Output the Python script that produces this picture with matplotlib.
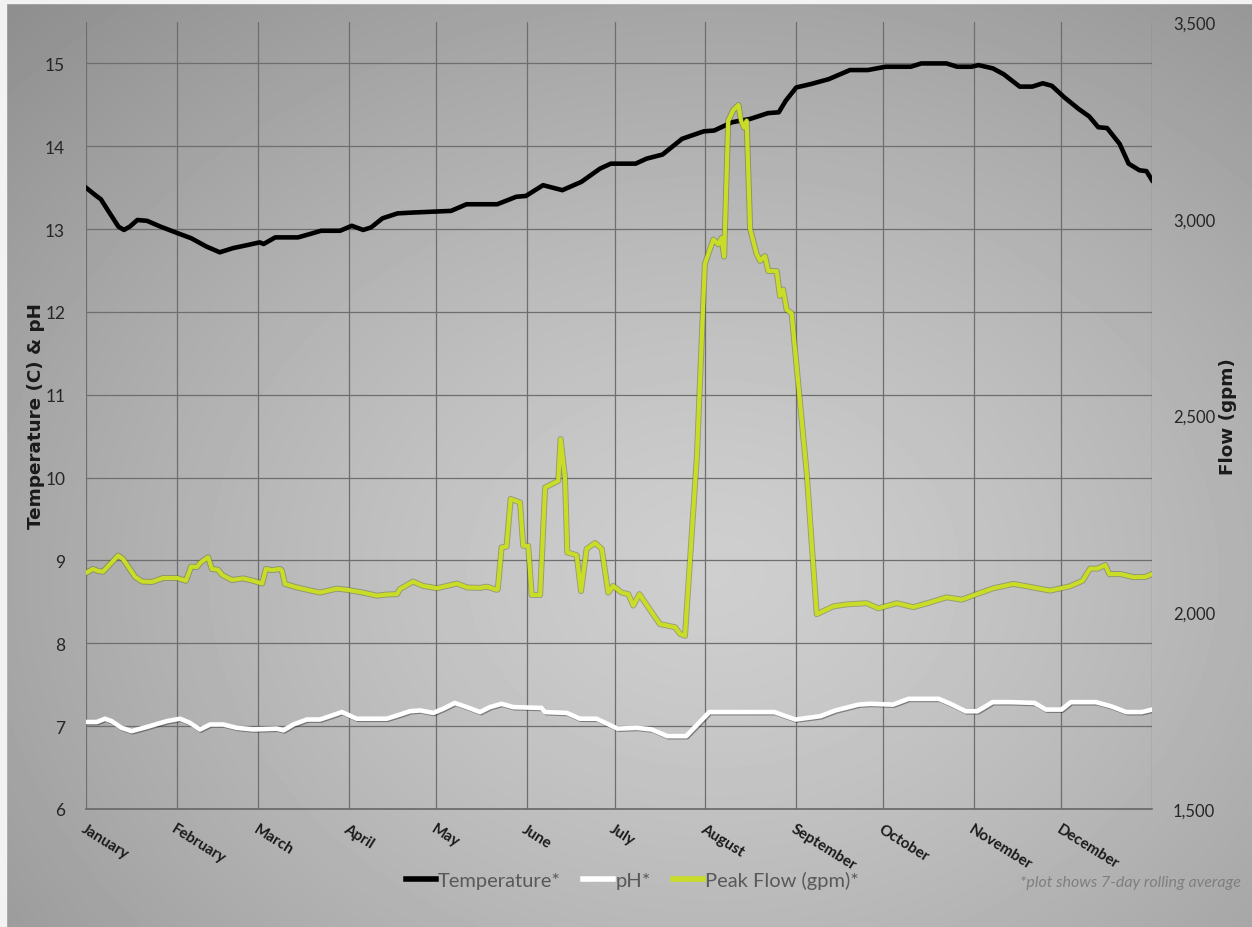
import numpy as np
import matplotlib
matplotlib.use("Agg")
import matplotlib.pyplot as plt
from matplotlib import patheffects as pe
from matplotlib.ticker import FuncFormatter
from matplotlib.patches import Rectangle

# ---------------- data (day of year, value) ----------------
months = ["January", "February", "March", "April", "May", "June",
          "July", "August", "September", "October", "November", "December"]
month_starts = [0, 31, 59, 90, 120, 151, 181, 212, 243, 273, 304, 334]

temp_days = [0, 3.2, 5.1, 7.8, 11.1, 13, 15, 17.6, 20.9, 25.5, 30.7, 36, 41.2, 45.8,
             50.3, 55.6, 59.5, 60.8, 64.8, 72.6, 76.6, 80.5, 87, 91, 94.9, 97.6,
             101.5, 106.7, 112, 125, 130.3, 140.8, 147.3, 150.6, 156.5, 163.1,
             165.7, 169.6, 176, 179.7, 188.2, 191.9, 197.4, 204.1, 211.5, 215.1,
             221.2, 227.4, 233.5, 237.2, 239.6, 243.2, 248.1, 254.3, 261.6, 267.7,
             273.8, 282.4, 286, 294.6, 298.3, 303.2, 305.6, 310.5, 314.2, 319.7,
             324, 327.6, 330.7, 335, 339.9, 343.5, 346.6, 349.6, 353.9, 357,
             360.7, 363.1, 365]
temp_vals = [13.50, 13.41, 13.36, 13.21, 13.03, 12.99, 13.03, 13.11, 13.10, 13.03,
             12.96, 12.89, 12.79, 12.72, 12.77, 12.81, 12.84, 12.82, 12.90, 12.90,
             12.94, 12.98, 12.98, 13.04, 12.99, 13.02, 13.13, 13.19, 13.20, 13.22,
             13.30, 13.30, 13.39, 13.40, 13.53, 13.47, 13.51, 13.57, 13.73, 13.79,
             13.79, 13.85, 13.90, 14.09, 14.18, 14.19, 14.29, 14.33, 14.40, 14.41,
             14.55, 14.71, 14.75, 14.81, 14.92, 14.92, 14.96, 14.96, 15.00, 15.00,
             14.96, 14.96, 14.98, 14.94, 14.87, 14.72, 14.72, 14.76, 14.73, 14.59,
             14.45, 14.36, 14.23, 14.22, 14.03, 13.79, 13.71, 13.70, 13.59]

ph_days = [0, 3.7, 6.5, 8.8, 12.2, 15.6, 20.8, 27.6, 32.2, 35.6, 39, 42.5, 47, 51.6,
           57.3, 65.3, 67.6, 71, 75.6, 80.1, 83.5, 87.6, 92.7, 103, 107.5, 110.9,
           114.4, 118.9, 122.3, 126.3, 130.4, 134.9, 138.3, 142.3, 146.3, 156,
           157.2, 164.6, 169.1, 174.8, 182, 188.5, 193.7, 199, 205.5, 208.8, 213.4,
           235.7, 242.9, 251.4, 256.6, 264.5, 268.4, 276.3, 281.6, 292, 296, 301.2,
           305.2, 310.4, 316.9, 324.8, 328.7, 334, 337.2, 345.8, 351, 356.2, 361.5,
           365]
ph_vals = [7.05, 7.05, 7.09, 7.06, 6.98, 6.94, 6.99, 7.06, 7.09, 7.04, 6.96, 7.02,
           7.02, 6.98, 6.96, 6.97, 6.95, 7.02, 7.08, 7.08, 7.12, 7.17, 7.09, 7.09,
           7.14, 7.18, 7.19, 7.16, 7.21, 7.28, 7.23, 7.17, 7.23, 7.27, 7.23, 7.22,
           7.17, 7.16, 7.09, 7.09, 6.97, 6.98, 6.96, 6.88, 6.88, 7.00, 7.17, 7.17,
           7.08, 7.12, 7.19, 7.26, 7.27, 7.26, 7.33, 7.33, 7.27, 7.18, 7.18, 7.29,
           7.29, 7.28, 7.20, 7.20, 7.29, 7.29, 7.24, 7.17, 7.17, 7.20]

flow_days = [0, 2.4, 4.1, 5.8, 11, 12.7, 16.8, 19.2, 22.6, 26.4, 31.2, 34.2, 36, 38,
             39, 41.8, 43.1, 45.2, 46.6, 50, 53.8, 57.2, 60.3, 61.6, 63.7, 66.4,
             67.1, 68.1, 72.2, 80.1, 85.9, 89.4, 94.8, 99.6, 103, 106.5, 107.5, 112,
             115.4, 120.2, 127, 130.5, 134.9, 137.3, 140.6, 141, 142.3, 144, 145.4,
             148.6, 149.7, 151.4, 152.6, 155.5, 157.2, 161.7, 162.5, 164, 164.8, 168,
             169.5, 171.4, 174.3, 176.6, 178.8, 180.5, 183.4, 185.7, 187.4, 189.5,
             192.5, 196.5, 201.7, 203.4, 205.1, 209.2, 211.9, 213.1, 214.8, 216.5,
             217.6, 218.5, 219.9, 221.6, 223.4, 224.3, 225.3, 226.2, 227.4, 229.6,
             230.8, 232.5, 233.6, 236.5, 237.6, 238.7, 239.9, 241.6, 246.8, 250.2,
             255.9, 260.5, 267.3, 271.3, 277.6, 283.3, 289, 294.7, 299.8, 306.1,
             310.7, 317.5, 322.1, 330.1, 336.9, 341.2, 343.8, 346.4, 349, 350.4,
             354.3, 358.8, 362.8, 365]
flow_vals = [2100, 2110, 2105, 2103, 2144, 2135, 2090, 2078, 2077, 2087, 2087, 2080,
             2116, 2115, 2125, 2140, 2110, 2108, 2095, 2082, 2086, 2080, 2073, 2110,
             2107, 2110, 2106, 2072, 2063, 2050, 2060, 2057, 2050, 2042, 2045, 2046,
             2059, 2078, 2067, 2061, 2073, 2063, 2062, 2065, 2057, 2059, 2165, 2167,
             2288, 2279, 2169, 2169, 2044, 2044, 2317, 2334, 2440, 2343, 2152, 2145,
             2054, 2161, 2176, 2161, 2050, 2067, 2050, 2046, 2017, 2046, 2013, 1970,
             1962, 1945, 1940, 2400, 2885, 2911, 2947, 2935, 2951, 2904, 3249, 3276,
             3289, 3249, 3232, 3249, 2974, 2911, 2893, 2905, 2867, 2867, 2804, 2820,
             2769, 2760, 2351, 1995, 2015, 2020, 2023, 2010, 2023, 2013, 2025, 2038,
             2032, 2049, 2061, 2072, 2066, 2055, 2066, 2080, 2111, 2111, 2120, 2097,
             2097, 2089, 2090, 2097]

left_ticks = [6, 7, 8, 9, 10, 11, 12, 13, 14, 15]
right_ticks = [1500, 2000, 2500, 3000, 3500]

# ---------------- figure ----------------
plt.rcParams['font.family'] = ['Lato', 'DejaVu Sans']
W, H = 1252, 928
fig = plt.figure(figsize=(W / 100, H / 100), dpi=100)

# radial gradient background
bg = fig.add_axes([0, 0, 1, 1], zorder=-10)
yy, xx = np.mgrid[0:1:300j, 0:1:400j]
cx, cy = 0.57, 0.38
r = np.sqrt(((xx - cx) / 0.80) ** 2 + ((yy - cy) / 0.85) ** 2)
r = np.clip(r, 0, 1)
light, dark = 0.81, 0.56
img = light - (light - dark) * r ** 1.3
bg.imshow(img, cmap='gray', vmin=0, vmax=1, extent=[0, 1, 0, 1], origin='lower',
          aspect='auto', interpolation='bilinear')
bg.set_axis_off()
# thin light border on top and left edges
fig.patches.append(Rectangle((0, 1 - 4 / H), 1, 4 / H, transform=fig.transFigure,
                             color='#f2f2f2', zorder=-5))
fig.patches.append(Rectangle((0, 0), 6 / W, 1, transform=fig.transFigure,
                             color='#f2f2f2', zorder=-5))

ax = fig.add_axes([86 / W, 1 - 810 / H, (1152 - 86) / W, (810 - 23) / H])
ax.patch.set_alpha(0)
ax.set_xlim(0, 365)
ax.set_ylim(6, 15.5)

grid_c = '#6e6e6e'
for d in month_starts + [365]:
    ax.axvline(d, color=grid_c, lw=0.9, zorder=0)
for t in left_ticks[1:]:
    ax.axhline(t, color=grid_c, lw=0.9, zorder=0)

for s in ['top', 'right', 'left']:
    ax.spines[s].set_visible(False)
ax.spines['bottom'].set_color('#666666')
ax.spines['bottom'].set_linewidth(1.2)

ax.set_yticks(left_ticks)
ax.tick_params(axis='y', length=0, pad=15, labelsize=12.5, labelcolor='#262626')
ax.set_xticks(month_starts)
ax.set_xticklabels(months, rotation=-32, ha='left', va='top',
                   rotation_mode='anchor', fontweight='bold', fontsize=11,
                   color='#1a1a1a')
ax.tick_params(axis='x', length=0, pad=9)
ax.set_ylabel('Temperature (C) & pH', fontweight='bold', fontsize=13.2,
              color='#1a1a1a', family='DejaVu Sans')
ax.yaxis.set_label_coords(-0.0385, 0.5)

ax.plot(temp_days, temp_vals, color='black', lw=3.3, solid_joinstyle='round',
        label='Temperature*', zorder=3)
ax.plot(ph_days, ph_vals, color='white', lw=3.3, solid_joinstyle='round',
        label='pH*', zorder=3,
        path_effects=[pe.SimpleLineShadow(offset=(0.8, -0.8), alpha=0.35),
                      pe.Normal()])

ax2 = ax.twinx()
ax2.patch.set_alpha(0)
ax2.set_ylim(1500, 3500)
ax2.set_yticks(right_ticks)
ax2.yaxis.set_major_formatter(FuncFormatter(lambda v, p: f"{int(v):,}"))
ax2.tick_params(axis='y', length=0, pad=15, labelsize=12, labelcolor='#262626')
for s in ['top', 'right', 'left', 'bottom']:
    ax2.spines[s].set_visible(False)
ax2.set_ylabel('Flow (gpm)', fontweight='bold', fontsize=13.2, color='#1a1a1a',
               rotation=90, family='DejaVu Sans')
ax2.yaxis.set_label_coords(1.0625, 0.5)
ax2.plot(flow_days, flow_vals, color='#c8dc28', lw=3.0, solid_joinstyle='round',
         label='Peak Flow (gpm)*', zorder=4,
         path_effects=[pe.Stroke(linewidth=4.3, foreground=(0.35, 0.4, 0.1, 0.45)),
                       pe.Normal()])

h1, l1 = ax.get_legend_handles_labels()
h2, l2 = ax2.get_legend_handles_labels()
leg = fig.legend(h1 + h2, l1 + l2, loc='center', bbox_to_anchor=(0.505, 0.051),
                 ncol=3, frameon=False, fontsize=14.5, handlelength=1.5,
                 handletextpad=0.1, columnspacing=1.1)
for t in leg.get_texts():
    t.set_color('#595959')
for lh in leg.get_lines():
    lh.set_linewidth(4)
    lh.set_path_effects([])

fig.text(0.991, 0.049, '*plot shows 7-day rolling average', ha='right', va='center',
         style='italic', fontsize=11.5, color='#7f7f7f')

fig.savefig('out.png', dpi=100)
